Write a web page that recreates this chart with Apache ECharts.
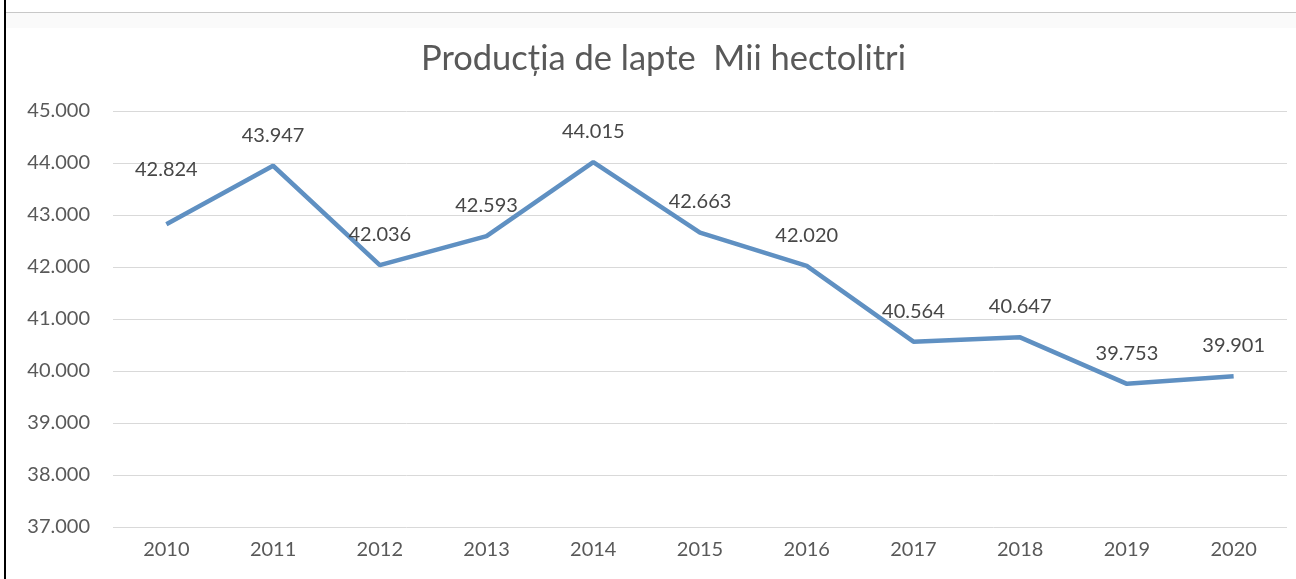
<!DOCTYPE html>
<html><head><meta charset="utf-8">
<script src="https://cdn.jsdelivr.net/npm/echarts@6/dist/echarts.min.js"></script>
<style>html,body{margin:0;padding:0;background:#fff}#c{width:1296px;height:579px}</style>
</head><body><div id="c"></div>
<script>
const titleText = 'Producția de lapte  Mii hectolitri';
const years = ['2010','2011','2012','2013','2014','2015','2016','2017','2018','2019','2020'];
const production = [42824, 43947, 42036, 42593, 44015, 42663, 42020, 40564, 40647, 39753, 39901];
const yMin = 37000, yMax = 45000, yStep = 1000;

function fmt(v){ return String(v).replace(/\B(?=(\d{3})+(?!\d))/g, '.'); }

const FONT = 'Lato';
const seriesData = production.map((v, i) => i === 0 ? { value: v, label: { offset: [0, -24] } } : v);

const chart = echarts.init(document.getElementById('c'));
chart.setOption({
  animation: false,
  backgroundColor: '#fff',
  textStyle: { fontFamily: FONT },
  title: {
    text: titleText, left: 416, top: 36,
    textStyle: { fontFamily: FONT, fontSize: 34.5, fontWeight: 'normal', color: '#595959' }
  },
  graphic: [
    { type: 'rect', shape: { x: 4, y: 0, width: 2, height: 579 }, style: { fill: '#000' } },
    { type: 'rect', shape: { x: 6, y: 12, width: 1290, height: 1 }, style: { fill: '#c8c8c8' } },
    { type: 'rect', shape: { x: 6, y: 13, width: 1290, height: 15 }, style: { fill: '#fafafa' } }
  ],
  grid: { left: 113, right: 9, top: 111, bottom: 52, containLabel: false },
  xAxis: {
    type: 'category', data: years, boundaryGap: true,
    axisLine: { show: false }, axisTick: { show: false },
    axisLabel: { color: '#595959', fontSize: 20, margin: 13, fontFamily: FONT }
  },
  yAxis: {
    type: 'value', min: yMin, max: yMax, interval: yStep,
    axisLine: { show: false }, axisTick: { show: false },
    splitLine: { lineStyle: { color: '#d9d9d9', width: 1 } },
    axisLabel: { color: '#595959', fontSize: 20, margin: 23, formatter: fmt, fontFamily: FONT }
  },
  series: [{
    type: 'line', data: seriesData,
    symbol: 'circle', symbolSize: 1, showSymbol: true,
    itemStyle: { color: 'rgba(0,0,0,0)' },
    lineStyle: { color: '#5f90c2', width: 4.5 },
    label: { show: true, position: 'top', distance: 20, color: '#474747', fontSize: 20, fontFamily: FONT, formatter: p => fmt(p.value) }
  }]
});
</script></body></html>
